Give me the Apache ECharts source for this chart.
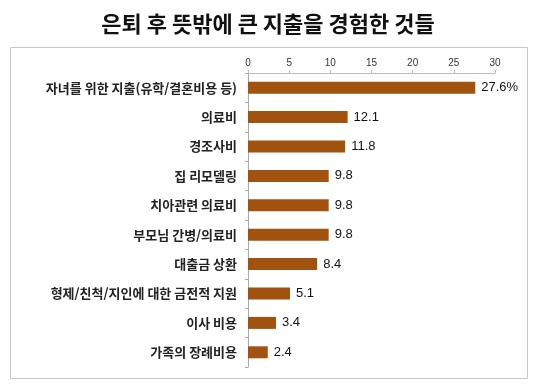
<!DOCTYPE html>
<html><head><meta charset="utf-8">
<script src="https://cdn.jsdelivr.net/npm/echarts@6/dist/echarts.min.js"></script>
<style>html,body{margin:0;padding:0;background:#fff}#c{width:536px;height:387px}</style>
</head><body><div id="c"></div>
<script>
const title = '은퇴 후 뜻밖에 큰 지출을 경험한 것들';
const categories = ['자녀를 위한 지출(유학/결혼비용 등)','의료비','경조사비','집 리모델링','치아관련 의료비','부모님 간병/의료비','대출금 상환','형제/친척/지인에 대한 금전적 지원','이사 비용','가족의 장례비용'];
const values = [27.6, 12.1, 11.8, 9.8, 9.8, 9.8, 8.4, 5.1, 3.4, 2.4];
const valueLabels = ['27.6%','12.1','11.8','9.8','9.8','9.8','8.4','5.1','3.4','2.4'];
const axisMin = 0, axisMax = 30, axisStep = 5;

const chart = echarts.init(document.getElementById('c'));
chart.setOption({
  animation: false,
  title: {text: title, left: 'center', top: 8,
    textStyle: {fontFamily: 'Noto Sans CJK KR', fontWeight: 'bold', fontSize: 22, color: '#111'}},
  graphic: [{type: 'rect', shape: {x: 10.5, y: 47.5, width: 517, height: 331},
    style: {fill: 'none', stroke: '#c8c8c8', lineWidth: 1}, silent: true}],
  grid: {left: 248, right: 41, top: 73, bottom: 20},
  xAxis: {type: 'value', position: 'top', min: axisMin, max: axisMax, interval: axisStep,
    axisLine: {show: true, lineStyle: {color: '#bbb'}},
    axisTick: {show: true, length: 3, lineStyle: {color: '#bbb'}},
    splitLine: {show: false},
    axisLabel: {fontSize: 10, color: '#333', margin: 5, fontFamily: 'Liberation Sans'}},
  yAxis: {type: 'category', data: categories, inverse: true,
    axisLine: {show: true, lineStyle: {color: '#aaa'}},
    axisTick: {show: true, length: 3, lineStyle: {color: '#aaa'}},
    axisLabel: {fontSize: 13, fontWeight: 'bold', color: '#222', margin: 11, fontFamily: 'Noto Sans CJK KR'}},
  series: [{type: 'bar', data: values, barWidth: 12,
    itemStyle: {color: '#a2520f'},
    label: {show: true, position: 'right', distance: 6, fontSize: 13, color: '#111',
      fontFamily: 'Liberation Sans',
      formatter: p => valueLabels[p.dataIndex]}}]
});
</script></body></html>
